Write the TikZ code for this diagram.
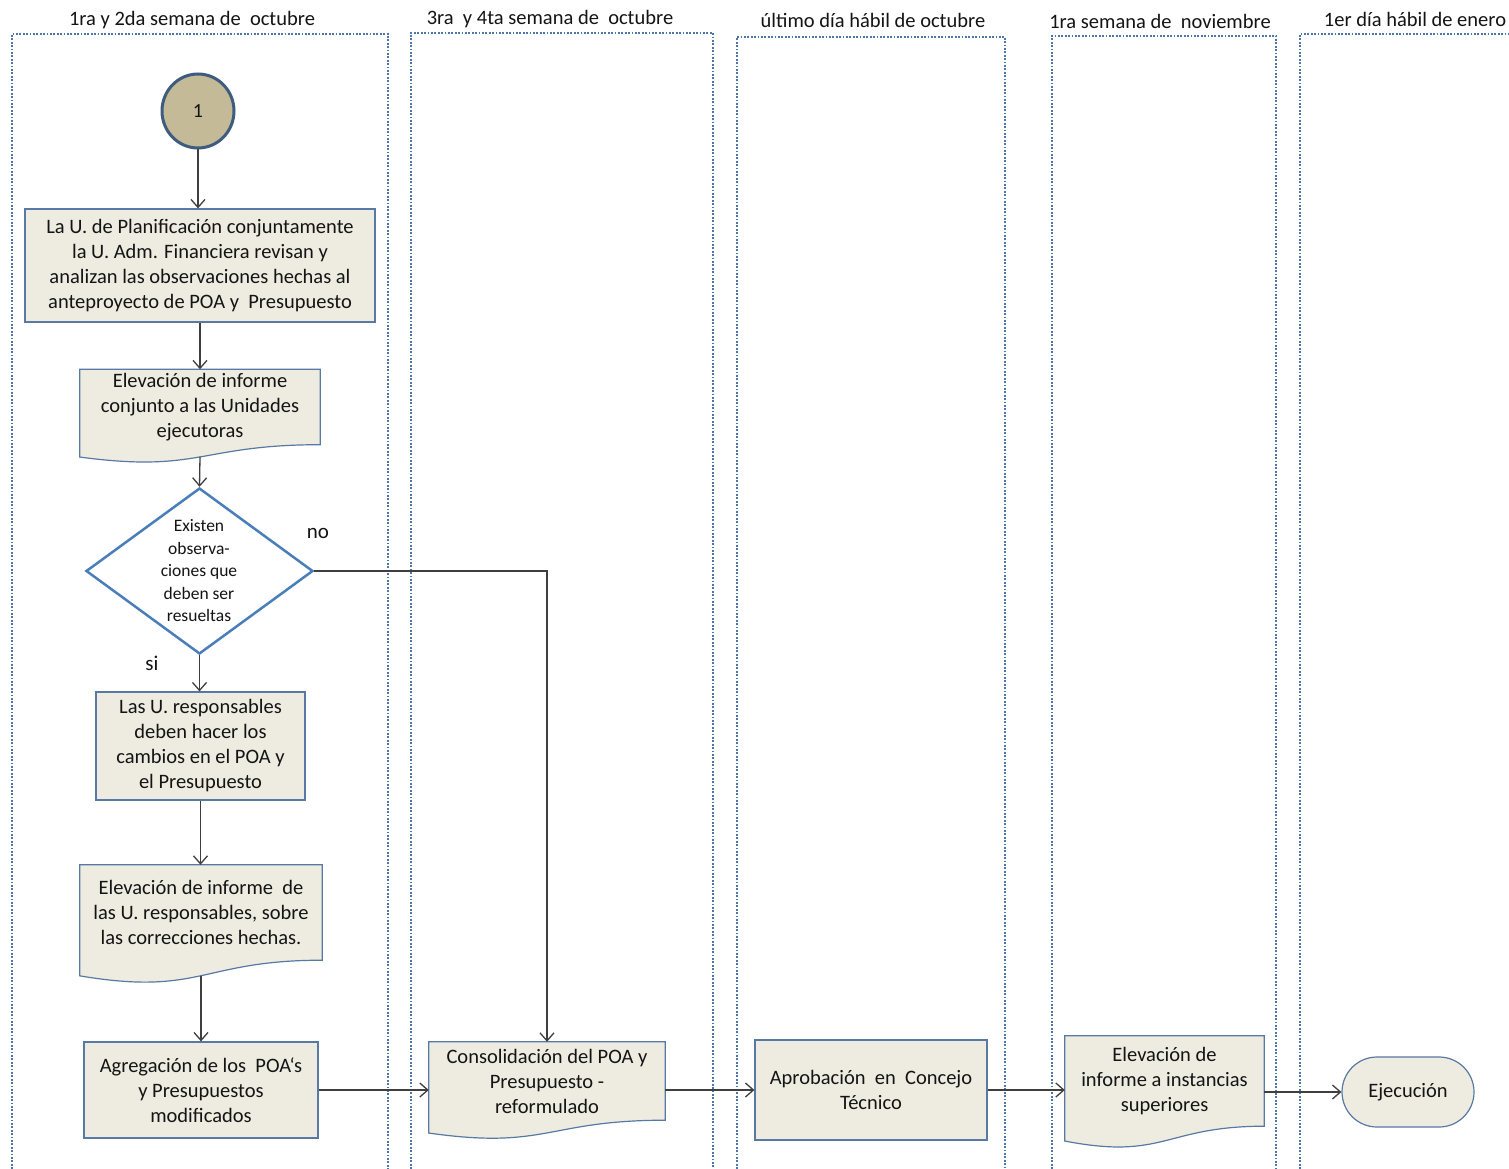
\documentclass[tikz,border=0pt]{standalone}
\usepackage{fontspec}
\setmainfont{Carlito}
\usetikzlibrary{shapes.geometric,arrows.meta,calc,backgrounds}
\definecolor{boxfill}{HTML}{EEECE1}
\definecolor{boxline}{HTML}{5779A4}
\definecolor{laneline}{HTML}{4F76A8}
\definecolor{circfill}{HTML}{C4BA97}
\definecolor{circline}{HTML}{3E5C7E}
\definecolor{dline}{HTML}{4A7EBB}
\definecolor{arrline}{HTML}{3F3F3F}
\definecolor{txt}{HTML}{141414}
\newcommand\docwave[2]{%
  \draw[docbg] (#1.north west) -- (#1.north east) -- (#1.south east)
    .. controls (#1.south) and ($(#1.south)+(0,{0.38*#2})$) ..
    ($(#1.south west)+(0,{0.1646*#2})$) -- cycle;
  \coordinate (#1-bot) at ($(#1.south)+(0,{0.163*#2})$);}
\begin{document}
\begin{tikzpicture}[x=1pt,y=-1pt,
  lane/.style={laneline, line width=2.3pt, dash pattern=on 1.8pt off 1.6pt},
  hdr/.style={text=txt, font=\fontsize{20.5}{24}\selectfont, inner sep=0},
  proc/.style={draw=boxline, fill=boxfill, line width=1.2pt, text=txt, align=center, font=\fontsize{20.5}{25}\selectfont, inner sep=0},
  doctext/.style={text=txt, align=center, font=\fontsize{20.5}{25}\selectfont, inner sep=0},
  docbg/.style={draw=boxline, fill=boxfill, line width=1.2pt},
  arr/.style={arrline, line width=1.3pt, -{Straight Barb[length=8pt,width=14pt,line width=1.3pt]}},
  lbl/.style={text=txt, font=\fontsize{21}{24}\selectfont, inner sep=0}
]
\useasboundingbox (0,0) rectangle (1509,1169);

% lanes
\draw[lane] (12,1169) -- (12,34) -- (388,34) -- (388,1169);
\draw[lane] (411,1169) -- (411,33) -- (713,33) -- (713,1169);
\draw[lane] (737,1169) -- (737,37) -- (1005,37) -- (1005,1169);
\draw[lane] (1052,1169) -- (1052,36) -- (1276,36) -- (1276,1169);
\draw[lane] (1300,1169) -- (1300,34) -- (1509,34);

% headers
\node[hdr] (h1) at (192,20) {1ra y 2da semana de~~octubre};
\node[hdr] (h2) at (550,19) {3ra~~y 4ta semana de~~octubre};
\node[hdr] (h3) at (873,20) {último día hábil de octubre};
\node[hdr] (h4) at (1160,21) {1ra semana de~~noviembre};
\node[hdr] (h5) at (1415,19) {1er día hábil de enero};

% start
\node[ellipse, draw=circline, line width=3pt, fill=circfill, minimum width=72pt, minimum height=74pt, inner sep=0, text=txt, font=\fontsize{20}{22}\selectfont] (c) at (198,111) {1};

\node[proc, minimum width=350pt, minimum height=113pt] (b1) at (200,265.5)
  {La U. de Planificación conjuntamente\\la U. Adm. Financiera revisan y\\analizan las observaciones hechas al\\anteproyecto de POA y~~Presupuesto};

\node[doctext, minimum width=240pt, minimum height=75pt] (b2) at (200,407)
  {Elevación de informe\\conjunto a las Unidades\\ejecutoras};

\node[diamond, draw=dline, line width=2.5pt, fill=white, minimum width=227pt, minimum height=166pt, inner sep=0] (d) at (199.5,571) {};
\node[doctext, font=\fontsize{17.5}{22.5}\selectfont] (dt) at (199,571) {Existen\\observa-\\ciones que\\deben ser\\resueltas};

\node[lbl] (no) at (318,533) {no};
\node[lbl] (si) at (152,663) {si};

\node[proc, minimum width=209pt, minimum height=108pt] (b3) at (200.5,746)
  {Las U. responsables\\deben hacer los\\cambios en el POA y\\el Presupuesto};

\node[doctext, minimum width=242pt, minimum height=95pt] (b4) at (201,912.5)
  {Elevación de informe~~de\\las U. responsables, sobre\\las correcciones hechas.};

\node[proc, minimum width=234pt, minimum height=96pt] (b5) at (201,1090)
  {Agregación de los~~POA`s\\y Presupuestos\\modificados};

\node[doctext, minimum width=236pt, minimum height=78pt] (b6) at (547,1081)
  {Consolidación del POA y\\Presupuesto -\\reformulado};

\node[proc, minimum width=232pt, minimum height=100pt] (b7) at (871,1090)
  {Aprobación~ en~ Concejo\\Técnico};

\node[doctext, minimum width=199pt, minimum height=90pt] (b8) at (1164.5,1081)
  {Elevación de\\informe a instancias\\superiores};

\node[proc, rounded corners=35pt, minimum width=132pt, minimum height=70pt] (b9) at (1408,1092) {Ejecución};

\begin{scope}[on background layer]
  \fill[white] (0,0) rectangle (1509,1169);
  \docwave{b2}{75}
  \docwave{b4}{95}
  \docwave{b6}{78}
  \docwave{b8}{90}
\end{scope}

% connectors
\draw[arr] (c.south) -- (c.south |- b1.north);
\draw[arr] (b1.south) -- (b2.north);
\draw[arr] (b2-bot) -- (d.north);
\draw[arr] (d.south) -- (d.south |- b3.north);
\draw[arr] (b3.south) -- (b3.south |- b4.north);
\draw[arr] (b4-bot) -- (b4-bot |- b5.north);
\draw[arr] (d.east) -| (b6.north);
\draw[arr] (b5.east) -- (b5.east -| b6.west);
\draw[arr] (b7.west -| b6.east) -- (b7.west);
\draw[arr] (b7.east) -- (b7.east -| b8.west);
\draw[arr] (b9.west -| b8.east) -- (b9.west);
\end{tikzpicture}
\end{document}
